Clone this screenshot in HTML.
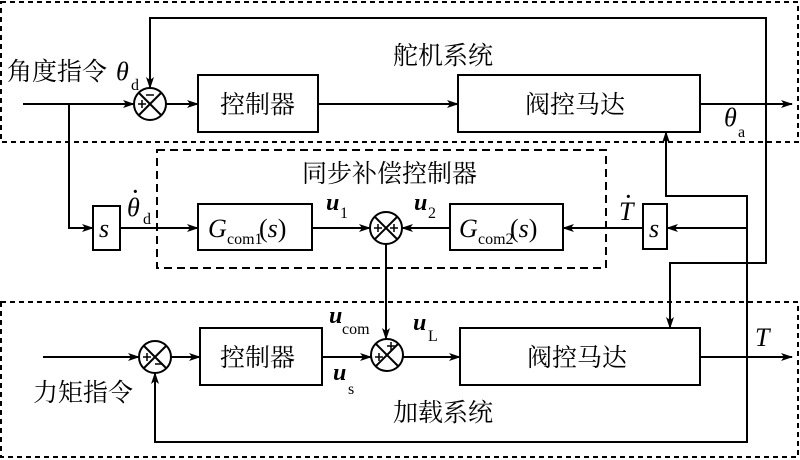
<!DOCTYPE html>
<html><head><meta charset="utf-8"><style>
html,body{margin:0;padding:0;background:#fff;}
svg{display:block;}
text{font-family:"Liberation Serif","Noto Serif CJK SC",serif;fill:#000;}
.cn{font-family:"Liberation Serif","Noto Serif CJK SC",serif;font-size:25px;}
.it{font-style:italic;font-size:26px;}
.u{font-style:italic;font-weight:bold;font-size:24px;}
.sub{font-size:16px;}
</style></head><body>
<svg width="800" height="460" viewBox="0 0 800 460" xmlns="http://www.w3.org/2000/svg">
<defs><marker id="a" markerWidth="12" markerHeight="8" refX="11" refY="4" orient="auto" markerUnits="userSpaceOnUse"><path d="M0,0 L12,4 L0,8 L3,4 Z" fill="#000"/></marker></defs>
<g fill="none" stroke="#000" stroke-width="2" stroke-dasharray="5,4">
<path d="M1,2 H798 V142 H1 Z"/>
<path d="M1,302 H798 V457 H1 Z"/>
<path d="M157,150 H606 V268 H157 Z" stroke-dasharray="8,5"/>
</g>
<g fill="none" stroke="#000" stroke-width="2">
<rect x="198" y="75" width="120" height="57"/>
<rect x="458" y="75" width="242" height="57"/>
<rect x="93" y="206" width="27" height="44"/>
<rect x="198" y="204" width="114" height="46"/>
<rect x="450" y="204" width="113" height="46"/>
<rect x="643" y="204" width="24" height="45"/>
<rect x="200" y="328" width="122" height="57"/>
<rect x="460" y="328" width="240" height="57"/>
<circle cx="150" cy="104" r="16"/><path d="M139,93 L161,115 M161,93 L139,115"/>
<circle cx="386" cy="228" r="16"/><path d="M375,217 L397,239 M397,217 L375,239"/>
<circle cx="387" cy="355" r="16"/><path d="M376,344 L398,366 M398,344 L376,366"/>
<circle cx="155" cy="357" r="16"/><path d="M144,346 L166,368 M166,346 L144,368"/>
</g>
<g fill="none" stroke="#000" stroke-width="1.5">
<path d="M138,104 H146 M142,100 V108 M146,95 H154"/>
<path d="M143,357 H151 M147,353 V361 M155,364 H163"/>
<path d="M374,228 H382 M378,224 V232 M390,228 H398 M394,224 V232"/>
<path d="M387,346 H395 M391,342 V350 M375,357 H383 M379,353 V361"/>
</g>
<g fill="none" stroke="#000" stroke-width="2">
<path d="M23,104 H134" marker-end="url(#a)"/>
<path d="M166,104 H198" marker-end="url(#a)"/>
<path d="M318,104 H458" marker-end="url(#a)"/>
<path d="M700,104 H792" marker-end="url(#a)"/>
<path d="M766,104 V18 H150 V88" marker-end="url(#a)"/>
<path d="M766,104 V263 H670 V328" marker-end="url(#a)"/>
<path d="M69,104 V228 H93" marker-end="url(#a)"/>
<path d="M120,228 H198" marker-end="url(#a)"/>
<path d="M312,228 H370" marker-end="url(#a)"/>
<path d="M450,228 H402" marker-end="url(#a)"/>
<path d="M643,228 H563" marker-end="url(#a)"/>
<path d="M747,228 H667" marker-end="url(#a)"/>
<path d="M747,357 V196 H666 V132" marker-end="url(#a)"/>
<path d="M386,244 V339" marker-end="url(#a)"/>
<path d="M43,357 H139" marker-end="url(#a)"/>
<path d="M171,357 H200" marker-end="url(#a)"/>
<path d="M322,357 H371" marker-end="url(#a)"/>
<path d="M403,357 H460" marker-end="url(#a)"/>
<path d="M700,357 H792" marker-end="url(#a)"/>
<path d="M747,357 V442 H155 V373" marker-end="url(#a)"/>
</g>
<text class="cn" x="393" y="64">舵机系统</text>
<text class="cn" x="7" y="80">角度指令</text><text class="it" x="116" y="80">θ</text><text class="sub" x="131" y="90">d</text>
<text class="cn" x="220" y="113">控制器</text>
<text class="cn" x="525" y="113">阀控马达</text>
<text class="it" x="724" y="126">θ</text><text class="sub" x="738" y="137">a</text>
<text class="cn" x="302" y="182">同步补偿控制器</text>
<text class="it" x="99" y="237">s</text>
<text class="it" x="127" y="216">θ</text><text x="132" y="198" style="font-size:20px;font-weight:bold">·</text><text class="sub" x="143" y="224">d</text>
<text class="it" x="208" y="237">G</text><text class="sub" x="227" y="244">com1</text><text x="259" y="237" style="font-size:26px">(<tspan font-style="italic">s</tspan>)</text>
<text class="it" x="459" y="237">G</text><text class="sub" x="478" y="244">com2</text><text x="510" y="237" style="font-size:26px">(<tspan font-style="italic">s</tspan>)</text>
<text class="it" x="649" y="237">s</text>
<text class="it" x="619" y="220">T</text><text x="625" y="203" style="font-size:20px;font-weight:bold">·</text>
<text class="u" x="326" y="210">u</text><text class="sub" x="340" y="218">1</text>
<text class="u" x="414" y="210">u</text><text class="sub" x="428" y="218">2</text>
<text class="u" x="329" y="323">u</text><text class="sub" x="342" y="334">com</text>
<text class="u" x="413" y="330">u</text><text class="sub" x="428" y="341">L</text>
<text class="u" x="333" y="380">u</text><text class="sub" x="348" y="394">s</text>
<text class="it" x="755" y="346">T</text>
<text class="cn" x="220" y="366">控制器</text>
<text class="cn" x="527" y="366">阀控马达</text>
<text class="cn" x="33" y="401">力矩指令</text>
<text class="cn" x="393" y="421">加载系统</text>
</svg>
</body></html>
